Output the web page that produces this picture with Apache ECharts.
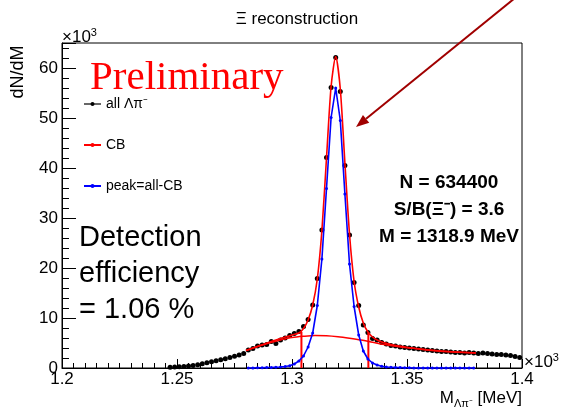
<!DOCTYPE html>
<html>
<head>
<meta charset="utf-8">
<script src="https://cdn.jsdelivr.net/npm/echarts@6/dist/echarts.min.js"></script>
<style>
html, body { margin: 0; padding: 0; background: #fff; }
#chart { width: 564px; height: 411px; }
</style>
</head>
<body>
<div id="chart"></div>
<script>
const SANS = 'Liberation Sans, Arial, Helvetica, sans-serif'

// histogram binning (MeV x 10^3)
const binWidth = 0.002
const allStart = 1.247
const peakStart = 1.281

// all Λπ- candidates, in 10^3
const allCounts = [
    0.15, 0.2, 0.25, 0.3, 0.4, 0.5, 0.65, 0.85, 1.05, 1.25, 1.45, 1.65, 1.85, 2.1, 2.35, 2.6, 2.9,
    3.6, 3.9, 4.4, 4.6, 4.7, 5.3, 4.9, 5.6, 6.0, 6.5, 6.9, 7.3, 8.3, 9.7, 12.6, 17.9, 27.6, 42.1,
    56.1, 62.1, 55.3, 40.5, 26.6, 17.1, 12.5, 8.6, 7.1, 5.9, 5.6, 5.1,
    4.8, 4.5, 4.4, 4.2, 4.1, 4.0, 3.9, 3.8, 3.7, 3.6, 3.5, 3.4, 3.3, 3.3, 3.2, 3.1, 3.1, 3.0,
    3.1, 3.0, 2.9, 3.0, 2.9, 2.8, 2.7, 2.7, 2.6, 2.5, 2.3, 2.1
]

// peak = all - CB
const peakCounts = [
    0.0, 0.0, 0.05, 0.05, 0.1, 0.1, 0.15, 0.2, 0.3, 0.45, 0.8, 1.4, 2.4, 4.2, 7.0, 12.5, 21.8,
    35.9, 50.1, 56.0, 49.5, 34.8, 20.8, 12.3, 6.6, 3.4, 1.8, 1.0, 0.6, 0.35, 0.2, 0.15, 0.1, 0.1,
    0.05, 0.05, 0, 0, 0, 0, 0, 0, 0, 0, 0, 0, 0, 0, 0, 0
]

// CB fit (total) curve
const fitMass = [1.280, 1.284, 1.288, 1.292, 1.296, 1.300, 1.303, 1.305, 1.307, 1.309, 1.311, 1.313,
    1.315, 1.317, 1.319, 1.321, 1.323, 1.325, 1.327, 1.329, 1.331, 1.333, 1.335, 1.337, 1.339,
    1.343, 1.348, 1.355, 1.362, 1.370, 1.380]
const fitTotal = [3.5, 4.15, 4.8, 5.45, 6.05, 6.6, 7.0, 7.9, 9.6, 12.6, 17.8, 27.5,
    42.0, 56.3, 62.3, 55.8, 41.0, 26.8, 17.3, 12.2, 9.0, 7.2, 6.2, 5.6, 5.2,
    4.7, 4.3, 3.8, 3.45, 3.2, 3.0]

// background part of the fit
const bgMass = [1.280, 1.285, 1.290, 1.295, 1.300, 1.305, 1.310, 1.315, 1.320, 1.325, 1.330,
    1.335, 1.340, 1.345, 1.350, 1.355, 1.360, 1.370, 1.380]
const bgValue = [3.5, 4.3, 5.0, 5.6, 6.1, 6.35, 6.5, 6.45, 6.25, 5.95, 5.6,
    5.15, 4.7, 4.35, 4.05, 3.85, 3.6, 3.25, 3.0]

// integration window
const windowMass = [1.3041, 1.3332]
const windowTop = [7.2, 7.1]

const legendNames = ['all Λπ⁻', 'CB', 'peak=all-CB']
const statsLines = ['N = 634400', 'S/B(Ξ⁻) = 3.6', 'M = 1318.9 MeV']
const effLines = ['Detection', 'efficiency', '= 1.06 %']

const allData = allCounts.map((v, i) => [+(allStart + i * binWidth).toFixed(3), v])
const peakData = peakCounts.map((v, i) => [+(peakStart + i * binWidth).toFixed(3), v])
const fitData = fitMass.map((m, i) => [m, fitTotal[i]])
const bgData = bgMass.map((m, i) => [m, bgValue[i]])

const chart = echarts.init(document.getElementById('chart'))

// arrow pointing at the peak
const tail = [515, -2]
const tip = [356, 127]
const dx = tip[0] - tail[0], dy = tip[1] - tail[1]
const len = Math.sqrt(dx * dx + dy * dy)
const ux = dx / len, uy = dy / len
const headLen = 13, headHalf = 5
const base = [tip[0] - ux * headLen, tip[1] - uy * headLen]

const windowSeries = windowMass.map((m, i) => ({
    name: 'window' + i,
    type: 'line',
    data: [[m, 0], [m, windowTop[i]]],
    symbol: 'none',
    lineStyle: { color: '#ff0000', width: 2 },
    z: 3
}))

const option = {
    animation: false,
    backgroundColor: '#fff',
    title: {
        text: 'Ξ reconstruction',
        left: 292,
        textAlign: 'center',
        top: 6,
        textStyle: { fontFamily: SANS, fontSize: 17, fontWeight: 'normal', color: '#000' }
    },
    grid: {
        left: 62, right: 42, top: 43, bottom: 43,
        show: true, borderColor: '#000', borderWidth: 1
    },
    legend: {
        orient: 'vertical',
        left: 83,
        top: 97,
        padding: 0,
        itemWidth: 17,
        itemHeight: 5,
        itemGap: 27,
        selectedMode: false,
        textStyle: { fontFamily: SANS, fontSize: 14, color: '#000' },
        data: [
            { name: legendNames[0], lineStyle: { width: 1.2, color: '#000', opacity: 1 } },
            legendNames[1],
            legendNames[2]
        ]
    },
    xAxis: {
        type: 'value',
        min: 1.2,
        max: 1.4,
        interval: 0.05,
        name: 'M{sub|Λπ⁻} [MeV]',
        nameLocation: 'end',
        nameGap: 0,
        nameTextStyle: {
            fontFamily: SANS, fontSize: 17, color: '#000',
            align: 'right', verticalAlign: 'top', padding: [20, 0, 0, 0],
            rich: { sub: { fontFamily: SANS, fontSize: 11, color: '#000', padding: [10, 0, 0, 0] } }
        },
        axisLine: { lineStyle: { color: '#000', width: 1 } },
        axisTick: { inside: true, length: 9, lineStyle: { color: '#000' } },
        minorTick: { show: true, splitNumber: 10, length: 5, lineStyle: { color: '#000' } },
        splitLine: { show: false },
        axisLabel: {
            fontFamily: SANS, fontSize: 17, color: '#000', margin: 3,
            formatter: v => String(+v.toFixed(2))
        }
    },
    yAxis: {
        type: 'value',
        min: 0,
        max: 65,
        interval: 10,
        axisLine: { show: true, lineStyle: { color: '#000', width: 1 } },
        axisTick: { show: true, inside: true, length: 14, lineStyle: { color: '#000' } },
        minorTick: { show: true, splitNumber: 5, length: 7, lineStyle: { color: '#000' } },
        splitLine: { show: false },
        axisLabel: { fontFamily: SANS, fontSize: 17, color: '#000', margin: 4, showMaxLabel: false }
    },
    graphic: {
        elements: [
            {
                type: 'text', x: 62, y: 37,
                style: {
                    text: '×10{sup|3}', fill: '#000', font: '17px ' + SANS,
                    align: 'left', verticalAlign: 'middle',
                    rich: { sup: { fontSize: 11, fontFamily: SANS, fill: '#000', padding: [0, 0, 9, 0] } }
                }
            },
            {
                type: 'text', x: 524, y: 362,
                style: {
                    text: '×10{sup|3}', fill: '#000', font: '17px ' + SANS,
                    align: 'left', verticalAlign: 'middle',
                    rich: { sup: { fontSize: 11, fontFamily: SANS, fill: '#000', padding: [0, 0, 9, 0] } }
                }
            },
            {
                type: 'text', x: 18, y: 72, rotation: Math.PI / 2,
                style: {
                    text: 'dN/dM', fill: '#000', font: '18px ' + SANS,
                    align: 'center', verticalAlign: 'middle'
                }
            },
            {
                type: 'text', x: 90, y: 78,
                style: {
                    text: 'Preliminary', fill: '#ff0000', font: '41px Liberation Serif, Times New Roman, serif',
                    align: 'left', verticalAlign: 'middle'
                }
            },
            {
                type: 'text', x: 79, y: 220,
                style: {
                    text: effLines.join('\n'), fill: '#000', font: '29px ' + SANS,
                    lineHeight: 36, align: 'left', verticalAlign: 'top'
                }
            },
            {
                type: 'text', x: 449, y: 169,
                style: {
                    text: statsLines.join('\n'), fill: '#000', font: 'bold 19px ' + SANS,
                    lineHeight: 27, align: 'center', verticalAlign: 'top'
                }
            },
            {
                type: 'line', z: 100,
                shape: { x1: tail[0], y1: tail[1], x2: base[0], y2: base[1] },
                style: { stroke: '#a00000', lineWidth: 2 }
            },
            {
                type: 'polygon', z: 100,
                shape: {
                    points: [
                        tip,
                        [base[0] + uy * headHalf, base[1] - ux * headHalf],
                        [base[0] - uy * headHalf, base[1] + ux * headHalf]
                    ]
                },
                style: { fill: '#a00000' }
            }
        ]
    },
    series: [
        {
            name: legendNames[0],
            type: 'line',
            data: allData,
            symbol: 'circle',
            symbolSize: 5,
            showSymbol: true,
            itemStyle: { color: '#000' },
            lineStyle: { width: 0, opacity: 0 },
            z: 2
        },
        {
            name: legendNames[1],
            type: 'line',
            data: fitData,
            smooth: 0.25,
            symbol: 'circle',
            symbolSize: 3,
            showSymbol: false,
            itemStyle: { color: '#ff0000' },
            lineStyle: { color: '#ff0000', width: 1.6 },
            z: 3
        },
        {
            name: 'CB background',
            type: 'line',
            data: bgData,
            smooth: 0.3,
            showSymbol: false,
            symbol: 'none',
            lineStyle: { color: '#ff0000', width: 1.5 },
            z: 3
        },
        ...windowSeries,
        {
            name: legendNames[2],
            type: 'line',
            data: peakData,
            symbol: 'circle',
            symbolSize: 3,
            showSymbol: true,
            itemStyle: { color: '#0000ff' },
            lineStyle: { color: '#0000ff', width: 1.6 },
            z: 4
        }
    ]
}

chart.setOption(option)

window.addEventListener('resize', () => {
    chart.resize()
})
</script>
</body>
</html>
